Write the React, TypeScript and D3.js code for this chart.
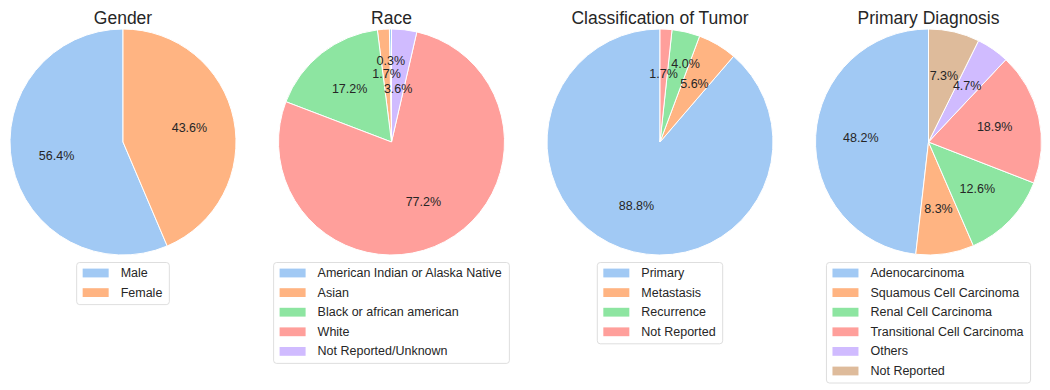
import React from 'react';
import * as d3 from 'd3';

// chart data
const titles = ['Gender', 'Race', 'Classification of Tumor', 'Primary Diagnosis'];

const genderLabels = ['Male', 'Female'];
const genderValues = [56.4, 43.6];

const raceLabels = [
  'American Indian or Alaska Native',
  'Asian',
  'Black or african american',
  'White',
  'Not Reported/Unknown',
];
const raceValues = [0.3, 1.7, 17.2, 77.2, 3.6];

const tumorLabels = ['Primary', 'Metastasis', 'Recurrence', 'Not Reported'];
const tumorValues = [88.8, 5.6, 4.0, 1.7];

const diagnosisLabels = [
  'Adenocarcinoma',
  'Squamous Cell Carcinoma',
  'Renal Cell Carcinoma',
  'Transitional Cell Carcinoma',
  'Others',
  'Not Reported',
];
const diagnosisValues = [48.2, 8.3, 12.6, 18.9, 4.7, 7.3];

// seaborn "pastel"
const pastel = ['#a1c9f4', '#ffb482', '#8de5a1', '#ff9f9b', '#d0bbff', '#debb9b'];

// small labels were moved by hand in the original to avoid overlap
const labelNudge: Record<string, [number, number]> = {
  'Race|0': [0, -13.5],
  'Race|4': [-1, 14.5],
  'Classification of Tumor|2': [10, -12],
};

const W = 1050;
const H = 390;
const FONT = '"Liberation Sans", Arial, sans-serif';
const TEXT = '#262626';

const R = 113;
const CY = 142;
const LEGEND_TOP = 262.5;
const ROW = 19.6;
const LEGEND_FONT = 12.5;

let ctx: CanvasRenderingContext2D | null = null;
function textWidth(s: string, size: number) {
  if (!ctx) ctx = document.createElement('canvas').getContext('2d');
  if (!ctx) return s.length * size * 0.5;
  ctx.font = `${size}px ${FONT}`;
  return ctx.measureText(s).width;
}

const Pie = ({ title, labels, values, cx }) => {
  const pie = d3
    .pie<number>()
    .sort(null)
    .value(d => d)
    .startAngle(0)
    .endAngle(-2 * Math.PI);
  const arcs = pie(values);
  const arc = d3.arc<any>().innerRadius(0).outerRadius(R);
  const labelArc = d3.arc<any>().innerRadius(R * 0.6).outerRadius(R * 0.6);

  const maxText = d3.max(labels, (l: string) => textWidth(l, LEGEND_FONT)) || 0;
  const boxW = 6 + 26 + 12 + maxText + 7;
  const boxH = 10.5 + (labels.length - 1) * ROW + 12;
  const bx = cx - boxW / 2;

  return (
    <g>
      <text
        x={cx}
        y={24}
        textAnchor="middle"
        fontSize={17.5}
        fill={TEXT}
        fontFamily={FONT}
      >
        {title}
      </text>
      <g transform={`translate(${cx},${CY})`}>
        {arcs.map((a, i) => (
          <path
            key={i}
            d={arc(a) || ''}
            fill={pastel[i]}
            stroke="white"
            strokeWidth={1}
          />
        ))}
        {arcs.map((a, i) => {
          const [x, y] = labelArc.centroid(a);
          const n = labelNudge[`${title}|${i}`] || [0, 0];
          return (
            <text
              key={i}
              x={x + n[0]}
              y={y + n[1]}
              textAnchor="middle"
              dominantBaseline="central"
              fontSize={12.5}
              fill={TEXT}
              fontFamily={FONT}
            >
              {values[i].toFixed(1)}%
            </text>
          );
        })}
      </g>
      <rect
        x={bx}
        y={LEGEND_TOP}
        width={boxW}
        height={boxH}
        rx={3}
        fill="white"
        stroke="#d6d6d6"
        strokeWidth={0.8}
      />
      {labels.map((l, i) => {
        const ry = LEGEND_TOP + 10.5 + i * ROW;
        return (
          <g key={l}>
            <rect x={bx + 6} y={ry - 4.4} width={26} height={8.8} fill={pastel[i]} />
            <text
              x={bx + 6 + 26 + 12}
              y={ry}
              dominantBaseline="central"
              fontSize={LEGEND_FONT}
              fill={TEXT}
              fontFamily={FONT}
            >
              {l}
            </text>
          </g>
        );
      })}
    </g>
  );
};

export default function App() {
  const x = d3.scalePoint<string>().domain(titles).range([123, 928.5]);
  const sets = [
    [genderLabels, genderValues],
    [raceLabels, raceValues],
    [tumorLabels, tumorValues],
    [diagnosisLabels, diagnosisValues],
  ];
  return (
    <svg
      width={W}
      height={H}
      style={{ position: 'absolute', left: 0, top: 0, background: 'white' }}
    >
      {titles.map((t, i) => (
        <Pie
          key={t}
          title={t}
          labels={sets[i][0]}
          values={sets[i][1]}
          cx={x(t)}
        />
      ))}
    </svg>
  );
}
